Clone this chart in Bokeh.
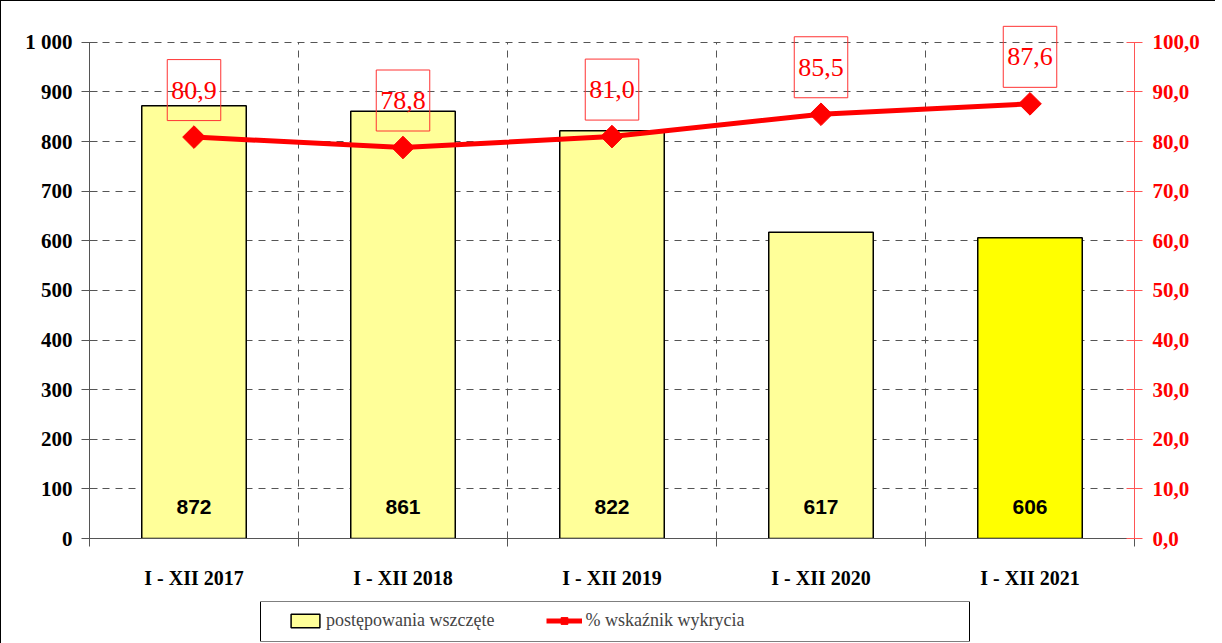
from bokeh.plotting import figure
from bokeh.models import (ColumnDataSource, Range1d, LinearAxis, FixedTicker,
                          Legend, LegendItem, BoxAnnotation)
from bokeh.layouts import column
from bokeh.core.properties import value
from bokeh.embed import file_html
from bokeh.resources import INLINE

categories = ["I - XII 2017", "I - XII 2018", "I - XII 2019", "I - XII 2020", "I - XII 2021"]
cases = [872, 861, 822, 617, 606]
detection = [80.9, 78.8, 81.0, 85.5, 87.6]
bar_colors = ["#FFFF99", "#FFFF99", "#FFFF99", "#FFFF99", "#FFFF00"]
left_ticks = list(range(0, 1001, 100))
right_ticks = list(range(0, 101, 10))
legend_labels = ["postępowania wszczęte", "% wskaźnik wykrycia"]

xs = list(range(len(categories)))
src = ColumnDataSource(dict(
    x=xs, cases=cases, det=detection, color=bar_colors,
    cases_txt=[str(v) for v in cases],
    det_txt=[f"{v:.1f}".replace(".", ",") for v in detection],
    zero=[0] * len(xs),
))
boundaries = [i + 0.5 for i in xs[:-1]]

BL, BR = 88, 81   # plot borders (px)
W = 1214
FRAME_W = W - BL - BR
HEADROOM = 1.05   # extra room above the axes' top so data labels are not clipped

SERIF = value("Liberation Serif")
p = figure(width=W, height=590, output_backend="svg", toolbar_location=None,
           x_range=Range1d(-0.5, len(xs) - 0.5),
           y_range=Range1d(0, left_ticks[-1] * HEADROOM),
           min_border_left=BL, min_border_right=BR, min_border_top=16,
           min_border_bottom=53)
p.outline_line_color = None
p.extra_y_ranges = {"pct": Range1d(0, right_ticks[-1] * HEADROOM)}

# grids
p.ygrid.ticker = FixedTicker(ticks=left_ticks)
p.ygrid.grid_line_color = "#555555"
p.ygrid.grid_line_dash = "7 6"
p.ygrid.grid_line_width = 1
p.xgrid.visible = False
p.segment(x0=boundaries, y0=[left_ticks[0]] * len(boundaries), x1=boundaries,
          y1=[left_ticks[-1]] * len(boundaries), line_color="#555555",
          line_dash="7 6", line_width=1)

# bars
bars = p.vbar(x="x", top="cases", width=0.5, source=src, fill_color="color",
              line_color="black", line_width=1.5)
p.text(x="x", y="zero", text="cases_txt", source=src, y_offset=-32,
       text_align="center", text_baseline="middle", text_font=value("Liberation Sans"),
       text_font_style="bold", text_font_size="21px", text_color="black")

# line
line_r = p.line(x="x", y="det", source=src, y_range_name="pct", line_color="#FF0000",
                line_width=5)
mk_r = p.scatter(x="x", y="det", source=src, y_range_name="pct", marker="square",
                 angle=0.785398, size=16, fill_color="#FF0000", line_color="#FF0000")
p.text(x="x", y="det", text="det_txt", source=src, y_range_name="pct", y_offset=-47,
       text_align="center", text_baseline="middle", text_font=SERIF,
       text_font_size="26px", text_color="#FF0000",
       border_line_color="#FF3333", border_line_width=1,
       padding=dict(left=4, right=4, top=22, bottom=22))

# x axis
xa = p.xaxis[0]
xa.ticker = FixedTicker(ticks=xs, minor_ticks=[i - 0.5 for i in xs] + [xs[-1] + 0.5])
xa.major_label_overrides = {i: c for i, c in zip(xs, categories)}
xa.major_tick_line_color = None
xa.major_tick_out = 0
xa.major_tick_in = 0
xa.minor_tick_in = 0
xa.minor_tick_out = 8
xa.minor_tick_line_color = "#555555"
xa.axis_line_color = "#555555"
xa.major_label_text_font = "Liberation Serif"
xa.major_label_text_font_style = "bold"
xa.major_label_text_font_size = "20px"
xa.major_label_text_color = "black"
xa.major_label_standoff = 20

# left axis
ya = p.yaxis[0]
ya.ticker = FixedTicker(ticks=left_ticks)
ya.bounds = (left_ticks[0], left_ticks[-1])
ya.major_label_overrides = {t: (f"{t:,}".replace(",", " ")) for t in left_ticks}
ya.minor_tick_line_color = None
ya.major_tick_in = 8
ya.major_tick_out = 8
ya.axis_line_color = "#555555"
ya.major_tick_line_color = "#555555"
ya.major_label_text_font = "Liberation Serif"
ya.major_label_text_font_style = "bold"
ya.major_label_text_font_size = "21px"
ya.major_label_text_color = "black"
ya.major_label_standoff = 9

# right axis
ra = LinearAxis(y_range_name="pct", ticker=FixedTicker(ticks=right_ticks),
                bounds=(right_ticks[0], right_ticks[-1]))
ra.major_label_overrides = {t: f"{t:.1f}".replace(".", ",") for t in right_ticks}
ra.minor_tick_line_color = None
ra.major_tick_in = 8
ra.major_tick_out = 8
ra.axis_line_color = "#FF5555"
ra.major_tick_line_color = "#FF5555"
ra.major_label_text_font = "Liberation Serif"
ra.major_label_text_font_style = "bold"
ra.major_label_text_font_size = "21px"
ra.major_label_text_color = "#FF0000"
ra.major_label_standoff = 10
p.add_layout(ra, "right")

# legend strip: a small figure with the same side borders; its x range is in pixels
lp = figure(width=W, height=53, output_backend="svg", toolbar_location=None,
            x_range=Range1d(0, FRAME_W), y_range=Range1d(0, 1), x_axis_type=None,
            y_axis_type=None, min_border_left=BL, min_border_right=BR,
            min_border_top=10, min_border_bottom=3)
lp.grid.visible = False
lp.outline_line_color = None
LEG_LEFT, LEG_W = 171, 709
lp.add_layout(BoxAnnotation(left=LEG_LEFT, right=LEG_LEFT + LEG_W, fill_alpha=0,
                            line_color="black", line_width=1, line_alpha=1))
lb = lp.vbar(x=[500], top=[0.5], width=1, fill_color=bar_colors[0], line_color="black",
             line_width=1.5, visible=False)
ll = lp.line(x=[500, 501], y=[0.5, 0.5], line_color="#FF0000", line_width=5,
             visible=False)
lm = lp.scatter(x=[500], y=[0.5], marker="square", angle=0.785398, size=16,
                fill_color="#FF0000", line_color="#FF0000", visible=False)
legend = Legend(items=[LegendItem(label=legend_labels[0], renderers=[lb]),
                       LegendItem(label=legend_labels[1], renderers=[ll, lm])],
                location=(LEG_LEFT + 27, 10), orientation="horizontal",
                label_text_font="Liberation Serif", label_text_font_size="18px",
                glyph_width=36, glyph_height=17, spacing=52, padding=0, margin=0,
                label_standoff=3, border_line_color=None,
                background_fill_alpha=0, label_height=20)
lp.add_layout(legend, "center")

layout = column(p, lp, spacing=0)
layout.styles = {"border-left": "1px solid black", "border-top": "1px solid black"}

open("out.html", "w").write(file_html(layout, INLINE))
